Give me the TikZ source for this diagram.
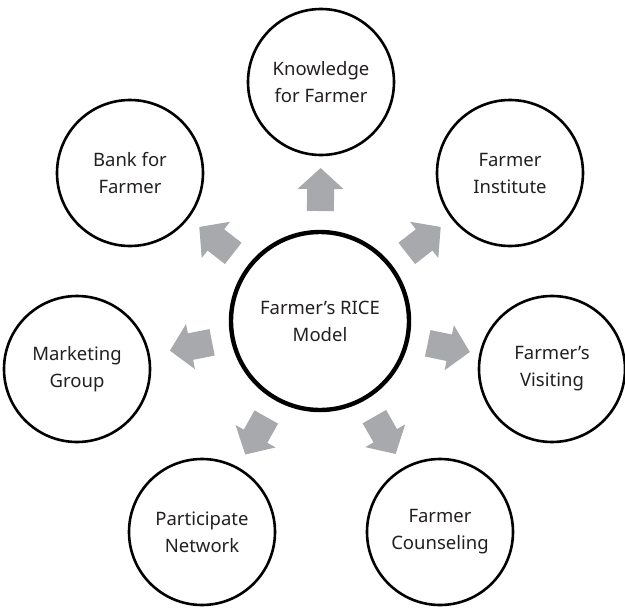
\documentclass[tikz,border=0pt]{standalone}
\usepackage{fontspec}
\setmainfont{Noto Sans}
\usetikzlibrary{calc}
\definecolor{arrowgray}{RGB}{167,169,172}
\definecolor{txt}{RGB}{35,31,32}
\tikzset{
  outer/.style={circle, draw=black, line width=2.6pt, minimum size=146pt, inner sep=0pt,
    align=center, font=\fontsize{18.5}{27}\selectfont, text=txt},
  centre/.style={circle, draw=black, line width=4.4pt, minimum size=178pt, inner sep=0pt,
    align=center, font=\fontsize{18.5}{27}\selectfont, text=txt},
  blockarrow/.style={fill=arrowgray, draw=none}
}
\begin{document}
\begin{tikzpicture}[x=1pt,y=-1pt]
\useasboundingbox (0,0) rectangle (625,608);
\node[centre] (c) at (320,321) {Farmer’s RICE\\Model};
\node[outer] (k)  at (321,82)  {Knowledge\\for Farmer};
\node[outer] (fi) at (510,173) {Farmer\\Institute};
\node[outer] (fv) at (552,369) {Farmer’s\\Visiting};
\node[outer] (fc) at (440,532) {Farmer\\Counseling};
\node[outer] (pn) at (202,532) {Participate\\Network};
\node[outer] (mg) at (77,369)  {Marketing\\Group};
\node[outer] (bf) at (130,173) {Bank for\\Farmer};
\foreach \t in {k,fi,fv,fc,pn,mg,bf}{
  \coordinate (s) at ($(c)!110pt!(\t)$);
  \coordinate (h) at ($(c)!132pt!(\t)$);
  \coordinate (p) at ($(c)!153pt!(\t)$);
  \fill[blockarrow] ($(s)!13.5pt!90:(\t)$) -- ($(h)!13.5pt!90:(\t)$) -- ($(h)!23pt!90:(\t)$)
    -- (p) -- ($(h)!23pt!-90:(\t)$) -- ($(h)!13.5pt!-90:(\t)$) -- ($(s)!13.5pt!-90:(\t)$) -- cycle;
}
\end{tikzpicture}
\end{document}
